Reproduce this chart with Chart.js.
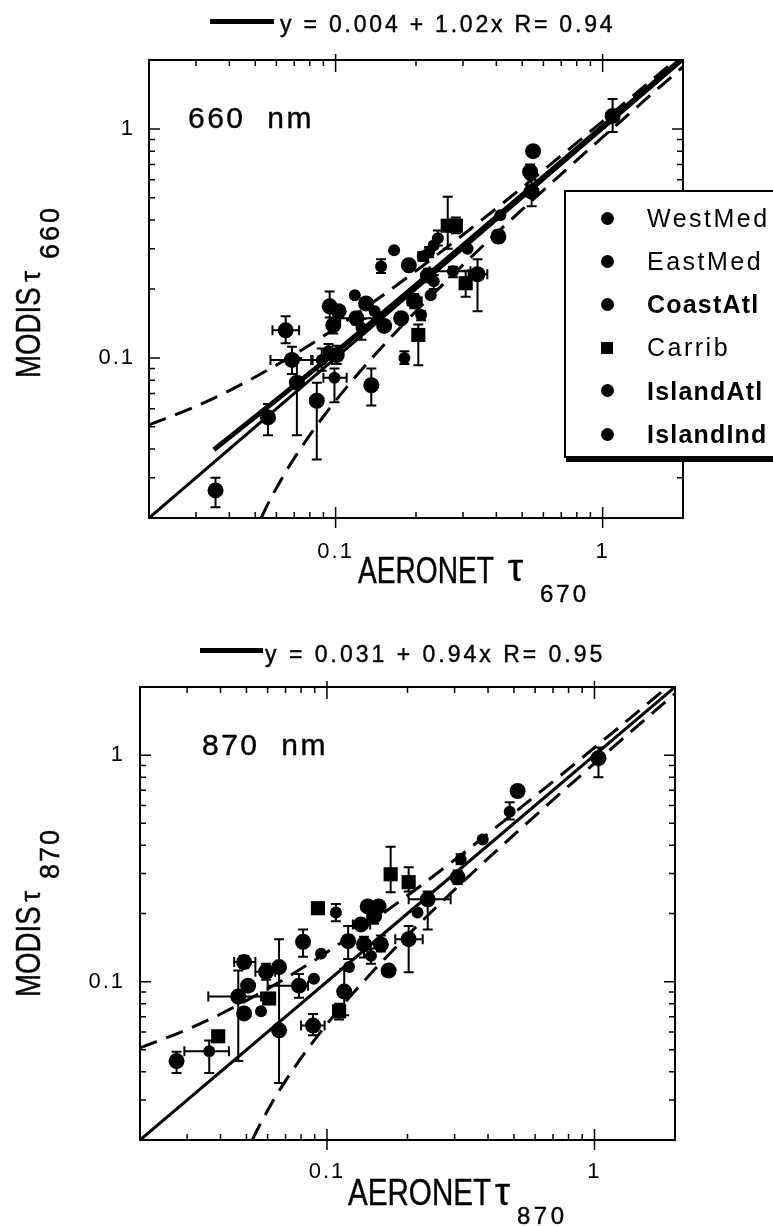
<!DOCTYPE html>
<html>
<head>
<meta charset="utf-8">
<script src="https://cdn.jsdelivr.net/npm/chart.js@4.4.1/dist/chart.umd.min.js"></script>
<style>
  html, body { margin: 0; padding: 0; overflow: hidden; background: #fff; }
  #page { position: relative; width: 773px; height: 1226px; overflow: hidden;
          font-family: "Liberation Sans", Arial, Helvetica, sans-serif; color: #000; }
  canvas { position: absolute; left: 0; }
  .txt { position: absolute; white-space: pre; -webkit-text-stroke: 0.4px #000; }
  #legend .txt { -webkit-text-stroke: 0; }
  #legend { position: absolute; left: 564px; top: 190px; width: 240px; height: 264px;
            border: 2px solid #000; background: #fff; box-shadow: 2px 4px 0 #000; }
  .mk { position: absolute; background: #000; }
</style>
</head>
<body>
<div id="page">
  <canvas id="c660" width="773" height="613" style="top:0"></canvas>
  <canvas id="c870" width="773" height="613" style="top:613px"></canvas>
</div>
<script>
// MODIS vs AERONET optical depth, 660 / 870 nm - log-log scatter with error bars

const SITES = ['WestMed', 'EastMed', 'CoastAtl', 'Carrib', 'IslandAtl', 'IslandInd'];

const MAJOR_TICKS = [0.1, 1];
const MINOR_TICKS = [0.03, 0.04, 0.05, 0.06, 0.07, 0.08, 0.09, 0.2, 0.3, 0.4, 0.5, 0.6, 0.7, 0.8, 0.9];

// 660 nm panel
const TOP_X = [0.065, 0.0686, 0.0716, 0.0558, 0.085, 0.0887, 0.094, 0.095, 0.1026, 0.098,
  0.101, 0.099, 0.118, 0.1196, 0.130, 0.125, 0.140, 0.148, 0.1656, 0.152,
  0.136, 0.181, 0.176, 0.188, 0.197, 0.204, 0.209, 0.212, 0.2215, 0.233,
  0.2415, 0.263, 0.282, 0.275, 0.307, 0.340, 0.312, 0.407, 0.227, 0.549,
  0.535, 0.542, 1.09, 0.414, 0.0355, 0.224, 0.233];
const TOP_Y = [0.132, 0.098, 0.078, 0.055, 0.065, 0.098, 0.107, 0.168, 0.160, 0.139,
  0.103, 0.082, 0.188, 0.149, 0.173, 0.135, 0.160, 0.251, 0.295, 0.138,
  0.076, 0.100, 0.149, 0.254, 0.177, 0.126, 0.154, 0.278, 0.229, 0.216,
  0.333, 0.378, 0.378, 0.239, 0.212, 0.232, 0.30, 0.339, 0.188, 0.80,
  0.65, 0.532, 1.14, 0.42, 0.0264, 0.29, 0.31];
const TOP_SITE = [2, 4, 2, 4, 2, 1, 0, 2, 2, 4,
  4, 1, 0, 2, 2, 0, 1, 1, 0, 4,
  5, 1, 2, 5, 4, 3, 0, 1, 2, 1,
  1, 3, 3, 0, 3, 4, 1, 2, 1, 2,
  4, 2, 5, 0, 4, 1, 0];
const TOP_XERR = [[0.058, 0.073], [0.057, 0.082], null, null, null, [0.081, 0.097], null, null, null, null,
  null, [0.09, 0.11], null, [0.104, 0.142], null, null, null, null, null, null,
  null, null, null, null, [0.186, 0.21], [0.196, 0.214], null, [0.204, 0.222], null, null,
  null, null, null, [0.225, 0.32], null, [0.315, 0.37], null, null, null, null,
  null, null, null, null, null, null, null];
const TOP_YERR = [[0.116, 0.152], [0.085, 0.112], [0.046, 0.1], [0.046, 0.063], [0.036, 0.078], [0.088, 0.11], [0.1, 0.115], [0.15, 0.195], null, [0.128, 0.15],
  [0.094, 0.113], [0.064, 0.09], null, [0.14, 0.158], [0.165, 0.182], [0.12, 0.148], null, [0.235, 0.27], null, null,
  [0.062, 0.09], [0.094, 0.107], null, null, [0.165, 0.19], [0.093, 0.14], [0.146, 0.16], [0.265, 0.29], [0.215, 0.245], [0.2, 0.23],
  [0.31, 0.36], [0.3, 0.506], [0.35, 0.41], [0.225, 0.25], [0.185, 0.24], [0.16, 0.27], null, [0.32, 0.36], null, null,
  [0.61, 0.7], [0.46, 0.6], [0.97, 1.35], null, [0.0223, 0.03], [0.275, 0.305], null];
const FIT660_X = [0.035, 0.1, 0.3, 1, 2];
const FIT660_Y = [0.0397, 0.106, 0.31, 1.024, 2.044];
const FIT660_TEXT = 'y = 0.004 + 1.02x R= 0.94';

// 870 nm panel
const BOT_X = [0.173, 0.202, 0.0925, 0.108, 0.142, 0.156, 0.134, 0.150, 0.12, 0.1375,
  0.159, 0.146, 0.238, 0.218, 0.316, 0.308, 0.382, 0.202, 0.170, 0.0814,
  0.095, 0.121, 0.116, 0.111, 0.0887, 0.0662, 0.049, 0.0507, 0.0592, 0.0662,
  0.0786, 0.0894, 0.0466, 0.049, 0.0567, 0.0608, 0.0392, 0.0363, 0.0274, 1.035,
  0.516, 0.482];
const BOT_Y = [0.298, 0.275, 0.211, 0.202, 0.215, 0.215, 0.179, 0.195, 0.151, 0.146,
  0.146, 0.130, 0.231, 0.202, 0.347, 0.289, 0.424, 0.154, 0.112, 0.150,
  0.133, 0.116, 0.0904, 0.074, 0.064, 0.061, 0.122, 0.096, 0.1106, 0.116,
  0.096, 0.103, 0.086, 0.0724, 0.074, 0.0843, 0.0574, 0.0493, 0.0446, 0.97,
  0.695, 0.563];
const BOT_SITE = [3, 3, 3, 0, 2, 2, 2, 4, 2, 4,
  2, 1, 4, 1, 1, 2, 1, 5, 2, 2,
  0, 1, 2, 3, 4, 5, 2, 2, 4, 2,
  4, 1, 2, 2, 1, 3, 3, 0, 4, 5,
  2, 1];
const BOT_XERR = [null, null, null, null, null, null, [0.125, 0.145], null, null, null,
  null, null, [0.202, 0.29], null, null, null, null, [0.18, 0.228], null, null,
  null, null, null, null, [0.08, 0.098], null, [0.045, 0.054], null, [0.054, 0.064], null,
  [0.06, 0.085], null, [0.036, 0.0567], null, null, null, null, [0.0293, 0.043], null, null,
  null, null];
const BOT_YERR = [[0.248, 0.394], [0.25, 0.32], null, [0.185, 0.22], null, null, null, [0.18, 0.21], [0.126, 0.176], [0.128, 0.158],
  [0.136, 0.16], [0.12, 0.14], [0.17, 0.25], null, [0.33, 0.365], [0.27, 0.31], null, [0.11, 0.176], null, [0.129, 0.17],
  null, null, [0.071, 0.114], [0.068, 0.08], [0.058, 0.072], [0.0357, 0.154], [0.115, 0.13], null, [0.102, 0.12], null,
  [0.085, 0.108], null, [0.0446, 0.112], null, null, [0.08, 0.088], null, [0.0395, 0.055], [0.0395, 0.049], [0.8, 1.08],
  null, [0.52, 0.62]];
const FIT870_TEXT = 'y = 0.031 + 0.94x R= 0.95';

// reference lines shared by both panels: 1:1 and expected-error envelope
const ONE_X = [0.02, 2];
const ONE_Y = [0.02, 2];
const EE_UP_X = [0.02, 0.03, 0.04, 0.06, 0.08, 0.1, 0.15, 0.2, 0.3, 0.5, 1, 2];
const EE_UP_Y = [0.051, 0.0615, 0.072, 0.093, 0.114, 0.135, 0.1875, 0.24, 0.345, 0.555, 1.08, 2.13];
const EE_LO_X = [0.0526, 0.055, 0.06, 0.065, 0.07, 0.08, 0.09, 0.1, 0.12, 0.15, 0.2, 0.3, 0.5, 1, 2.2];
const EE_LO_Y = [0.02, 0.0223, 0.027, 0.0318, 0.0365, 0.046, 0.0555, 0.065, 0.084, 0.1125, 0.16, 0.255, 0.445, 0.92, 2.06];

// marker styles per site
const SITE_SHAPE = ['circle', 'circle', 'circle', 'rect', 'circle', 'circle'];
const SITE_RADIUS = [6, 6, 8, 10, 8, 8];
const FONT = '"Liberation Sans", Arial, Helvetica, sans-serif';

function pairUp(xs, ys) {
  return xs.map((x, i) => ({ x: x, y: ys[i] }));
}

function siteDatasets(xs, ys, sites) {
  return SITES.map((name, s) => ({
    label: name,
    data: pairUp(xs, ys).filter((p, i) => sites[i] === s),
    pointStyle: SITE_SHAPE[s],
    pointRadius: SITE_RADIUS[s],
    backgroundColor: '#000',
    borderWidth: 0,
    showLine: false
  }));
}

function lineDataset(xs, ys, width, dash) {
  return {
    data: pairUp(xs, ys),
    showLine: true,
    pointRadius: 0,
    borderColor: '#000',
    borderWidth: width,
    borderDash: dash || [],
    borderCapStyle: 'butt',
    cubicInterpolationMode: 'monotone'
  };
}

// error bars, drawn under the markers
function makeErrorBars(xs, ys, xerr, yerr) {
  return {
    id: 'errorBars',
    beforeDatasetsDraw(chart) {
      const { ctx, scales: { x, y } } = chart;
      ctx.save();
      ctx.strokeStyle = '#000';
      ctx.lineWidth = 2;
      ctx.beginPath();
      xs.forEach((xv, i) => {
        const px = x.getPixelForValue(xv);
        const py = y.getPixelForValue(ys[i]);
        if (yerr[i]) {
          const a = y.getPixelForValue(yerr[i][0]);
          const b = y.getPixelForValue(yerr[i][1]);
          ctx.moveTo(px, a); ctx.lineTo(px, b);
          ctx.moveTo(px - 5, a); ctx.lineTo(px + 5, a);
          ctx.moveTo(px - 5, b); ctx.lineTo(px + 5, b);
        }
        if (xerr[i]) {
          const a = x.getPixelForValue(xerr[i][0]);
          const b = x.getPixelForValue(xerr[i][1]);
          ctx.moveTo(a, py); ctx.lineTo(b, py);
          ctx.moveTo(a, py - 5); ctx.lineTo(a, py + 5);
          ctx.moveTo(b, py - 5); ctx.lineTo(b, py + 5);
        }
      });
      ctx.stroke();
      ctx.restore();
    }
  };
}

// box round the plot with inward minor / major ticks on all four sides
const frameTicks = {
  id: 'frameTicks',
  beforeDraw(chart) {
    chart.ctx.letterSpacing = '2px';
  },
  afterDraw(chart) {
    const { ctx, chartArea: a, scales: { x, y } } = chart;
    ctx.save();
    ctx.strokeStyle = '#000';
    ctx.lineWidth = 2;
    ctx.strokeRect(a.left, a.top, a.right - a.left, a.bottom - a.top);
    ctx.lineWidth = 1.5;
    ctx.beginPath();
    MINOR_TICKS.forEach(v => {
      const px = x.getPixelForValue(v);
      const py = y.getPixelForValue(v);
      ctx.moveTo(px, a.bottom); ctx.lineTo(px, a.bottom - 6);
      ctx.moveTo(px, a.top); ctx.lineTo(px, a.top + 6);
      ctx.moveTo(a.left, py); ctx.lineTo(a.left + 6, py);
      ctx.moveTo(a.right, py); ctx.lineTo(a.right - 6, py);
    });
    MAJOR_TICKS.forEach(v => {
      const px = x.getPixelForValue(v);
      const py = y.getPixelForValue(v);
      ctx.moveTo(px, a.bottom + 10); ctx.lineTo(px, a.bottom - 11);
      ctx.moveTo(px, a.top - 6); ctx.lineTo(px, a.top + 12);
      ctx.moveTo(a.left, py); ctx.lineTo(a.left + 11, py);
      ctx.moveTo(a.right, py); ctx.lineTo(a.right - 11, py);
    });
    ctx.stroke();
    ctx.restore();
    ctx.letterSpacing = '0px';
  }
};

function logAxis(pos, size, pad) {
  const axis = {
    type: 'logarithmic',
    position: pos,
    min: 0.02,
    max: 2,
    afterBuildTicks: s => { s.ticks = MAJOR_TICKS.map(v => ({ value: v })); },
    ticks: {
      callback: v => String(v),
      font: { family: FONT, size: 22 },
      color: '#000',
      padding: pad,
      maxRotation: 0,
      autoSkip: false
    },
    grid: { display: false, drawTicks: false },
    border: { display: false }
  };
  if (pos === 'bottom') {
    axis.afterFit = s => { s.height = size; };
  } else {
    axis.afterFit = s => { s.width = size; };
  }
  return axis;
}

function renderPanel(id, p) {
  const datasets = siteDatasets(p.xs, p.ys, p.sites)
    .concat([lineDataset(ONE_X, ONE_Y, 3)])
    .concat(p.fit ? [lineDataset(p.fit[0], p.fit[1], 5)] : [])
    .concat([lineDataset(EE_UP_X, EE_UP_Y, 3, [18, 10]), lineDataset(EE_LO_X, EE_LO_Y, 3, [18, 10])]);

  return new Chart(document.getElementById(id), {
    type: 'scatter',
    data: { datasets: datasets },
    options: {
      responsive: false,
      animation: false,
      devicePixelRatio: 1,
      layout: { padding: { top: p.top, right: p.right, left: 0, bottom: 0 } },
      plugins: { legend: { display: false }, tooltip: { enabled: false } },
      scales: {
        x: logAxis('bottom', p.xh, p.xpad),
        y: logAxis('left', p.yw, p.ypad)
      }
    },
    plugins: [makeErrorBars(p.xs, p.ys, p.xerr, p.yerr), frameTicks]
  });
}

renderPanel('c660', {
  xs: TOP_X, ys: TOP_Y, sites: TOP_SITE, xerr: TOP_XERR, yerr: TOP_YERR,
  fit: [FIT660_X, FIT660_Y],
  top: 60, right: 90, xh: 95, yw: 149, xpad: 21, ypad: 14
});
renderPanel('c870', {
  xs: BOT_X, ys: BOT_Y, sites: BOT_SITE, xerr: BOT_XERR, yerr: BOT_YERR,
  fit: null,
  top: 74, right: 98, xh: 86, yw: 140, xpad: 19, ypad: 15
});

// ---- text round the plots (html so it stays real text) ----
const page = document.getElementById('page');

function addText(parent, str, left, baseline, size, o) {
  o = o || {};
  const d = document.createElement('div');
  d.className = 'txt';
  d.textContent = str;
  d.style.left = left + 'px';
  d.style.top = (baseline - 0.8465 * size) + 'px';
  d.style.fontSize = size + 'px';
  d.style.lineHeight = size + 'px';
  if (o.spacing) d.style.letterSpacing = o.spacing + 'px';
  if (o.bold) d.style.fontWeight = 'bold';
  if (o.sx) { d.style.transform = 'scaleX(' + o.sx + ')'; d.style.transformOrigin = '0 0'; }
  parent.appendChild(d);
  return d;
}

function addBar(left, top, w, h) {
  const d = document.createElement('div');
  d.className = 'mk';
  d.style.cssText = `left:${left}px;top:${top}px;width:${w}px;height:${h}px;`;
  page.appendChild(d);
}

// rotated box: local x runs up the page from (0, originY)
function rotatedBox(originY) {
  const r = document.createElement('div');
  r.style.cssText = `position:absolute;left:0;top:${originY}px;width:0;height:0;transform-origin:0 0;transform:rotate(-90deg);`;
  page.appendChild(r);
  return r;
}

// 660 nm panel texts
addBar(210, 18.5, 64, 5);
addText(page, FIT660_TEXT, 280, 32, 23, { spacing: 2.8 });
addText(page, '660  nm', 188, 128, 30, { spacing: 2.5 });
addText(page, 'AERONET', 358, 583, 37, { sx: 0.76 });
addText(page, 'τ', 508, 581, 38);
addText(page, '670', 540, 602, 24, { spacing: 3 });
const yl1 = rotatedBox(390);
addText(yl1, 'MODIS', 12, 40, 35, { sx: 0.79 });
addText(yl1, 'τ', 108, 41, 28);
addText(yl1, '660', 131, 60, 27, { spacing: 3 });

// 870 nm panel texts
addBar(200, 647.5, 63, 5);
addText(page, FIT870_TEXT, 265, 662, 23, { spacing: 3 });
addText(page, '870  nm', 202, 755, 30, { spacing: 2.5 });
addText(page, 'AERONET', 348, 1205, 37, { sx: 0.8 });
addText(page, 'τ', 495, 1205, 38);
addText(page, '870', 517, 1224, 24, { spacing: 3.5 });
const yl2 = rotatedBox(1010);
addText(yl2, 'MODIS', 13, 40, 35, { sx: 0.79 });
addText(yl2, 'τ', 108, 41, 28);
addText(yl2, '870', 131, 60, 27, { spacing: 2 });

// legend box (top panel), runs off the right edge like the original
const legend = document.createElement('div');
legend.id = 'legend';
page.appendChild(legend);
const LEGEND_BOLD = [false, false, true, false, true, true];
SITES.forEach((name, i) => {
  const base = 227 + i * 43.2 - 192;
  const m = document.createElement('div');
  m.className = 'mk';
  const d = SITE_SHAPE[i] === 'rect' ? 12 : 13;
  m.style.cssText = `left:${41 - d / 2}px;top:${base - 9 - d / 2}px;width:${d}px;height:${d}px;` +
    (SITE_SHAPE[i] === 'rect' ? '' : 'border-radius:50%;');
  legend.appendChild(m);
  addText(legend, name, 81, base, 25, { spacing: LEGEND_BOLD[i] ? 1.2 : 2.5, bold: LEGEND_BOLD[i] });
});
</script>
</body>
</html>
